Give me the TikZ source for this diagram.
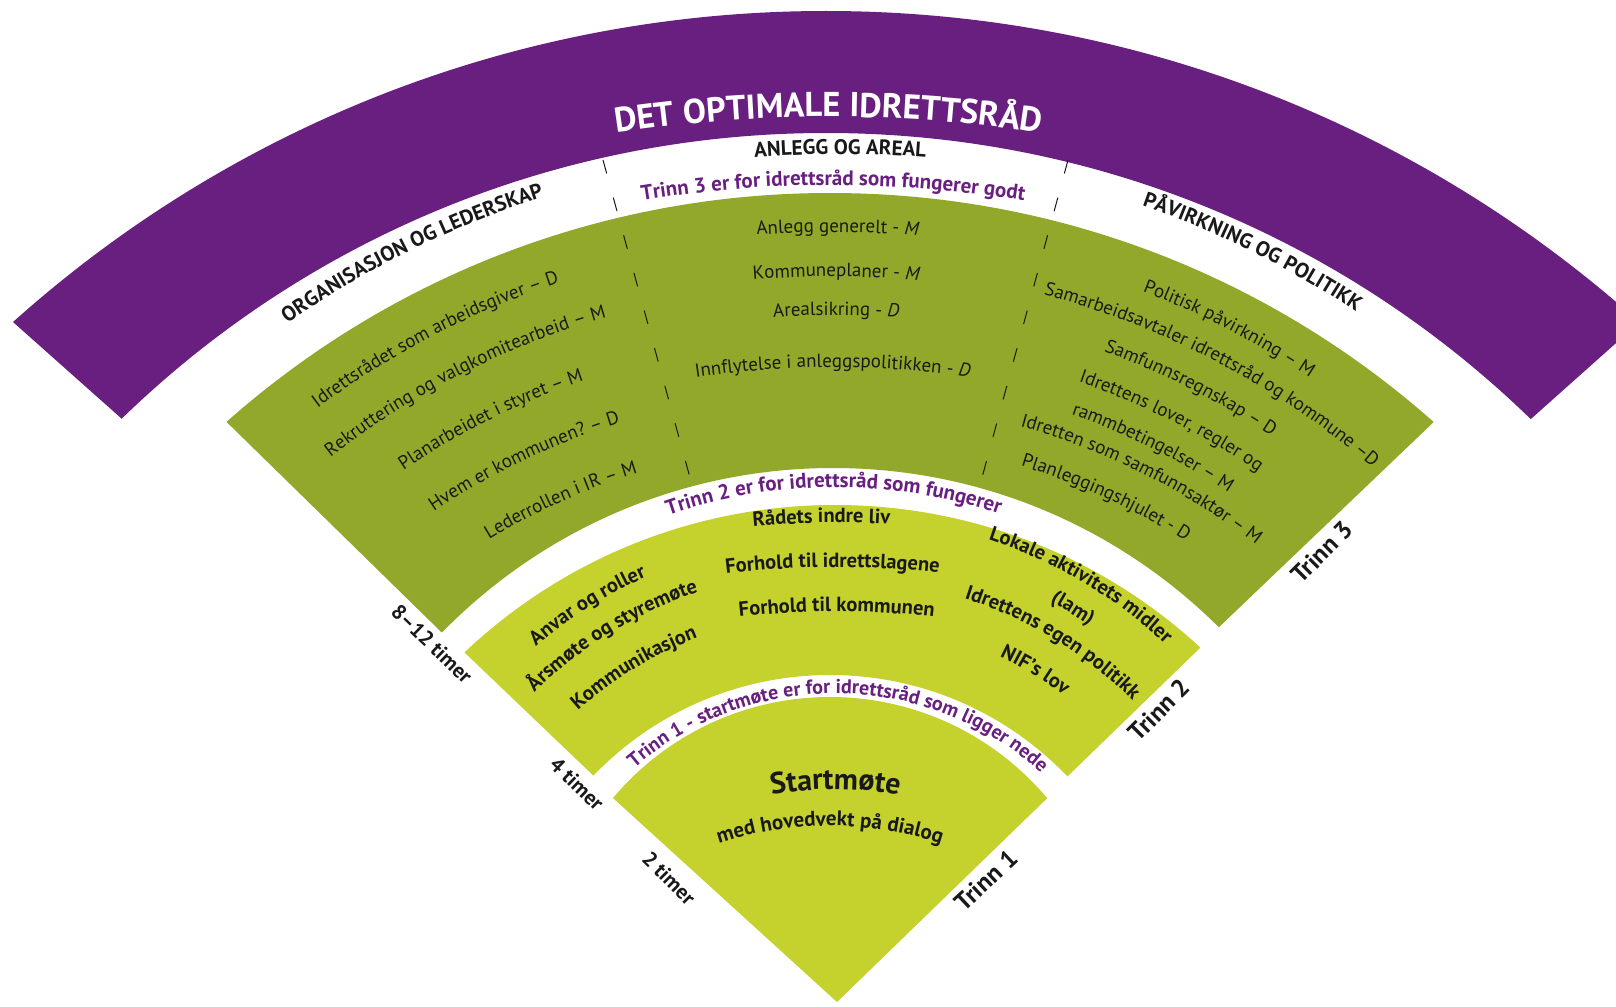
\documentclass[tikz,border=0pt]{standalone}
\usepackage{fontspec}
\setmainfont{PT Sans}
\usetikzlibrary{decorations.text,calc}
\definecolor{purp}{RGB}{105,31,128}
\definecolor{olivethree}{RGB}{146,168,42}
\definecolor{limetwo}{RGB}{197,210,46}
\definecolor{ink}{RGB}{25,25,25}
\newcommand\fTitle{\fontsize{34.5}{38}\selectfont\bfseries\color{white}}
\newcommand\fHead{\fontsize{21}{24}\selectfont\bfseries\color{ink}}
\newcommand\fItem{\fontsize{19}{22}\selectfont\color{ink}}
\newcommand\fItemIt{\fontsize{19}{22}\selectfont\itshape\color{ink}}
\newcommand\fBold{\fontsize{20.5}{23}\selectfont\bfseries\color{ink}}
\newcommand\fMed{\fontsize{21}{24}\selectfont\bfseries\color{ink}}
\newcommand\fPurp{\fontsize{21}{24}\selectfont\bfseries\color{purp}}
\newcommand\fPurpS{\fontsize{20}{23}\selectfont\bfseries\color{purp}}
\newcommand\fStart{\fontsize{30}{33}\selectfont\bfseries\color{ink}}
% text along an arc: centre (cx,cy), first letter (x1,y1), last letter (x2,y2), baseline offset d  -- image coordinates, y down
\newcommand\arctxt[8]{%
  \pgfmathsetmacro\axa{atan2((#2-#4)/100,(#3-#1)/100)}%
  \pgfmathsetmacro\axb{atan2((#2-#6)/100,(#5-#1)/100)}%
  \pgfmathsetmacro\rxa{100*sqrt(((#3-#1)/100)^2+((#2-#4)/100)^2)}%
  \pgfmathsetmacro\rxb{100*sqrt(((#5-#1)/100)^2+((#2-#6)/100)^2)}%
  \pgfmathsetmacro\amid{(\axa+\axb)/2}%
  \pgfmathsetmacro\rmid{(\rxa+\rxb)/2-#7}%
  \pgfmathsetmacro\aspan{abs(\axa-\axb)/2*1.6+6}%
  \path[decorate,decoration={text along path,text align=center,text={#8}}]
    ($(#1,-#2)+(\amid+\aspan:\rmid)$) arc[start angle=\amid+\aspan,end angle=\amid-\aspan,radius=\rmid];%
}
\tikzset{
  sidelabel/.style={font=\fontsize{21}{24}\selectfont\bfseries, text=ink, inner sep=0pt},
  trinnlabel/.style={font=\fontsize{25}{28}\selectfont\bfseries, text=ink, inner sep=0pt},
  dashline/.style={draw=ink, line width=1pt, dash pattern=on 14pt off 25pt}
}
\begin{document}
\begin{tikzpicture}[x=1pt,y=1pt]
\useasboundingbox (0,0) rectangle (1616,-1006);
\fill[white] (0,0) rectangle (1616,-1006);
\clip (0,0) rectangle (1616,-1006);

% purple band
\begin{scope}
\clip (-32,-282) -- (-32,50) -- (1680,50) -- (1680,-286) -- (1486,-459) -- (167,-459) -- cycle;
\fill[purp,even odd rule] (826,-1229) circle[radius=1218] (826,-1144) circle[radius=1011];
\end{scope}
% Trinn 3 band
\begin{scope}
\clip (197,-393) -- (197,50) -- (1462,50) -- (1462,-395) -- (1195,-650) -- (476,-666) -- cycle;
\fill[olivethree,even odd rule] (830,-1103) circle[radius=910] (833,-1015) circle[radius=547];
\end{scope}
% Trinn 2 band
\begin{scope}
\clip (440,-629) -- (440,-300) -- (1234,-300) -- (1234,-615) -- (1038,-805) -- (622,-803) -- cycle;
\fill[limetwo,even odd rule] (835,-1044.5) circle[radius=539.5] (830,-1003.6) circle[radius=328.6];
\end{scope}
% Trinn 1 sector
\begin{scope}
\clip (837,-1002) -- (591,-778) -- (591,-600) -- (1069,-600) -- (1069,-777) -- cycle;
\fill[limetwo] (830,-980.6) circle[radius=283.6];
\end{scope}

% dashed column separators
\coordinate (dla) at (603,-160);
\coordinate (dlb) at (692,-485);
\coordinate (dra) at (1068,-160);
\coordinate (drb) at (980,-485);
\draw[dashline] (dla) -- (dlb);
\draw[dashline] (dra) -- (drb);

% title and headers
\arctxt{828}{1515}{625}{121}{1032}{118}{12}{|\fTitle|DET OPTIMALE IDRETTSRÅD}
\arctxt{840}{1300}{760}{148}{920}{152}{7}{|\fHead|ANLEGG OG AREAL}
\arctxt{832}{1380}{647}{192}{1018}{195}{6}{|\fPurp|Trinn 3 er for idrettsråd som fungerer godt}
\arctxt{830}{1100}{289}{313}{535}{193}{7}{|\fHead|ORGANISASJON OG LEDERSKAP}
\arctxt{830}{1100}{1153}{200}{1352}{303}{7}{|\fHead|PÅVIRKNING OG POLITIKK}

% Trinn 3 left
\arctxt{830}{1100}{314}{402}{557}{278}{6}{|\fItem|Idrettsrådet som arbeidsgiver – D}
\arctxt{830}{1100}{318}{463}{617}{305}{6}{|\fItem|Rekruttering og valgkomitearbeid – M}
\arctxt{830}{1100}{400}{468}{583}{372}{6}{|\fItem|Planarbeidet i styret – M}
\arctxt{830}{1100}{437}{510}{613}{412}{6}{|\fItem|Hvem er kommunen? – D}
\arctxt{830}{1100}{498}{538}{625}{461}{6}{|\fItem|Lederrollen i IR – M}
% Trinn 3 centre
\arctxt{833}{1300}{760}{228}{915}{230}{6}{|\fItem|Anlegg generelt - |\fItemIt|M}
\arctxt{833}{1300}{752}{273}{920}{275}{6}{|\fItem|Kommuneplaner  - |\fItemIt|M}
\arctxt{833}{1300}{772}{310}{900}{313}{6}{|\fItem|Arealsikring - |\fItemIt|D}
\arctxt{833}{1300}{697}{370}{968}{372}{6}{|\fItem|Innflytelse i anleggspolitikken - |\fItemIt|D}
% Trinn 3 right
\arctxt{830}{1100}{1150}{285}{1308}{372}{6}{|\fItem|Politisk påvirkning – M}
\arctxt{830}{1100}{1047}{283}{1372}{467}{6}{|\fItem|Samarbeidsavtaler idrettsråd og kommune –D}
\arctxt{830}{1100}{1113}{345}{1268}{430}{6}{|\fItem|Samfunnsregnskap – D}
\arctxt{830}{1100}{1085}{375}{1257}{467}{6}{|\fItem|Idrettens lover, regler og}
\arctxt{830}{1100}{1077}{407}{1228}{488}{6}{|\fItem|rammbetingelser – M}
\arctxt{830}{1100}{1025}{418}{1256}{541}{6}{|\fItem|Idretten som samfunnsaktør – M}
\arctxt{830}{1100}{1028}{457}{1183}{538}{6}{|\fItem|Planleggingshjulet - D}

% Trinn 2
\arctxt{835}{1000}{672}{512}{998}{503}{6}{|\fPurp|Trinn 2 er for idrettsråd som fungerer}
\arctxt{835}{1000}{535}{637}{640}{575}{6}{|\fBold|Anvar og roller}
\arctxt{835}{1000}{528}{685}{697}{590}{6}{|\fBold|Årsmøte og styremøte}
\arctxt{835}{1000}{577}{707}{693}{630}{6}{|\fBold|Kommunikasjon}
\arctxt{835}{1500}{757}{523}{886}{515}{6}{|\fBold|Rådets indre liv}
\arctxt{835}{1500}{728}{568}{937}{566}{6}{|\fBold|Forhold til idrettslagene}
\arctxt{835}{1500}{742}{613}{932}{608}{6}{|\fBold|Forhold til kommunen}
\arctxt{835}{1000}{993}{535}{1167}{637}{6}{|\fBold|Lokale aktivitets midler}
\arctxt{835}{1000}{1053}{597}{1093}{620}{6}{|\fBold|(lam)}
\arctxt{835}{1000}{967}{597}{1138}{692}{6}{|\fBold|Idrettens egen politikk}
\arctxt{835}{1000}{1003}{653}{1067}{688}{6}{|\fBold|NIF’s lov}

% Trinn 1
\arctxt{835}{1000}{627}{763}{1045}{772}{6}{|\fPurpS|Trinn 1 - startmøte er for idrettsråd som ligger nede}
\arctxt{835}{1160}{775}{781}{895}{787}{10}{|\fStart|Startmøte}
\arctxt{830}{1185}{722}{835}{937}{837}{6}{|\fMed|med hovedvekt på dialog}

% side labels
\node[sidelabel, rotate=-44] (t812) at (432,-644) {8–12 timer};
\node[sidelabel, rotate=-44] (t4) at (577,-784) {4 timer};
\node[sidelabel, rotate=-45] (t2) at (669,-878) {2 timer};
\node[trinnlabel, rotate=45] (tr3) at (1322,-552) {Trinn 3};
\node[trinnlabel, rotate=45] (tr2) at (1159,-710) {Trinn 2};
\node[trinnlabel, rotate=43] (tr1) at (986,-880) {Trinn 1};
\end{tikzpicture}
\end{document}
